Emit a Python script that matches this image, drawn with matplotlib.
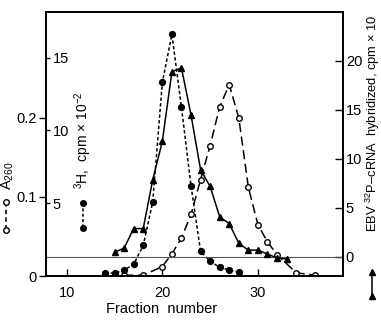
import matplotlib
matplotlib.use("Agg")
import matplotlib.pyplot as plt
from matplotlib.lines import Line2D

plt.rcParams["font.family"] = ["Liberation Sans", "DejaVu Sans"]
plt.rcParams["mathtext.fontset"] = "custom"
plt.rcParams["mathtext.rm"] = "Liberation Sans"
plt.rcParams["mathtext.it"] = "Liberation Sans"

# A260 (open circles, left axis)
a260_frac = [16, 18, 20, 21, 22, 23, 24, 25, 26, 27, 28, 29, 30, 31, 32, 34, 36]
a260_vals = [0.001, 0.001, 0.012, 0.028, 0.048, 0.078, 0.122, 0.165, 0.214,
             0.242, 0.200, 0.112, 0.065, 0.043, 0.027, 0.004, 0.001]

# 3H, cpm x 10^-2 (filled circles, inner left axis)
h3_frac = [14, 15, 16, 17, 18, 19, 20, 21, 22, 23, 24, 25, 26, 27, 28]
h3_vals = [0.2, 0.2, 0.4, 0.8, 2.1, 5.1, 13.3, 16.6, 11.6, 6.2, 1.7, 1.0,
           0.6, 0.4, 0.25]

# EBV 32P-cRNA hybridized (triangles, right axis)
ebv_frac = [15, 16, 17, 18, 19, 20, 21, 22, 23, 24, 25, 26, 27, 28, 29, 30,
            31, 32, 33]
ebv_vals = [0.5, 0.9, 2.9, 2.9, 7.9, 11.8, 18.9, 19.3, 14.5, 8.9, 7.2, 4.1,
            3.4, 1.4, 0.7, 0.7, 0.3, -0.1, -0.2]

fig = plt.figure(figsize=(3.81, 3.2), dpi=100)
ax = fig.add_axes([0.1207, 0.1375, 0.7796, 0.825])
ax_h = ax.twinx()
ax_r = ax.twinx()

ax.set_xlim(7.83, 38.9)
ax.set_ylim(0, 0.334)
ax_h.set_ylim(0, 18.14)
ax_r.set_ylim(-1.94, 25)

fs = 10.5
ax.set_xticks([10, 20, 30])
ax.tick_params(axis="x", direction="in", length=5, width=1, pad=7, labelsize=fs)
ax.set_yticks([0, 0.1, 0.2])
ax.set_yticklabels(["0", "0.1", "0.2"])
ax.tick_params(axis="y", direction="out", length=5, width=1, pad=1.5, labelsize=fs)
ax.set_xlabel("Fraction  number", fontsize=fs)
ax.xaxis.set_label_coords(0.39, -0.1)

ax_h.yaxis.set_ticks_position("left")
ax_h.set_yticks([5, 10, 15])
ax_h.tick_params(axis="y", direction="in", left=True, right=False,
                 labelleft=True, labelright=False, length=3, width=1,
                 pad=-5, labelsize=fs)
for lab in ax_h.get_yticklabels():
    lab.set_horizontalalignment("left")

ax_r.set_yticks([0, 5, 10, 15, 20])
ax_r.tick_params(axis="y", direction="in", length=6, width=1, pad=2, labelsize=fs)

for a in (ax, ax_h, ax_r):
    for s in a.spines.values():
        s.set_linewidth(1.2)

ax_r.axhline(0, color="#555555", lw=0.8)

ax.plot(a260_frac, a260_vals, color="black", lw=1.1, ls=(0, (6, 3)),
        marker="o", ms=4, mfc="white", mec="black", mew=1)
ax_h.plot(h3_frac, h3_vals, color="black", lw=1.1, ls=(0, (2.2, 1.5)),
          marker="o", ms=4.2, mfc="black", mec="black")
ax_r.plot(ebv_frac, ebv_vals, color="black", lw=1.1, ls="-",
          marker="^", ms=4.2, mfc="black", mec="black")

# axis titles
fig.text(8 / 381, 1 - 176 / 320, "A$_{260}$", rotation=90, ha="center",
         va="center", fontsize=fs)
fig.text(83 / 381, 1 - 140 / 320, "$^{3}$H,  cpm × 10$^{-2}$", rotation=90,
         ha="center", va="center", fontsize=fs - 0.5)
fig.text(373 / 381, 1 - 232 / 320, "EBV $^{32}$P–cRNA  hybridized, cpm × 10",
         rotation=90, ha="center", va="bottom", fontsize=9.3)

# key glyphs beside the axis titles
def key(x, y0, y1, ls, marker, mfc):
    W, H = 381.0, 320.0
    fig.add_artist(Line2D([x / W, x / W], [1 - y0 / H, 1 - y1 / H],
                          transform=fig.transFigure, color="black", lw=1.1,
                          ls=ls, marker=marker, ms=4, mfc=mfc, mec="black"))

key(6, 202, 230, (0, (3, 2)), "o", "white")
key(83, 203, 228, (0, (2, 1.5)), "o", "black")
key(372, 272, 296, "-", "^", "black")

fig.savefig("out.png", dpi=100)
